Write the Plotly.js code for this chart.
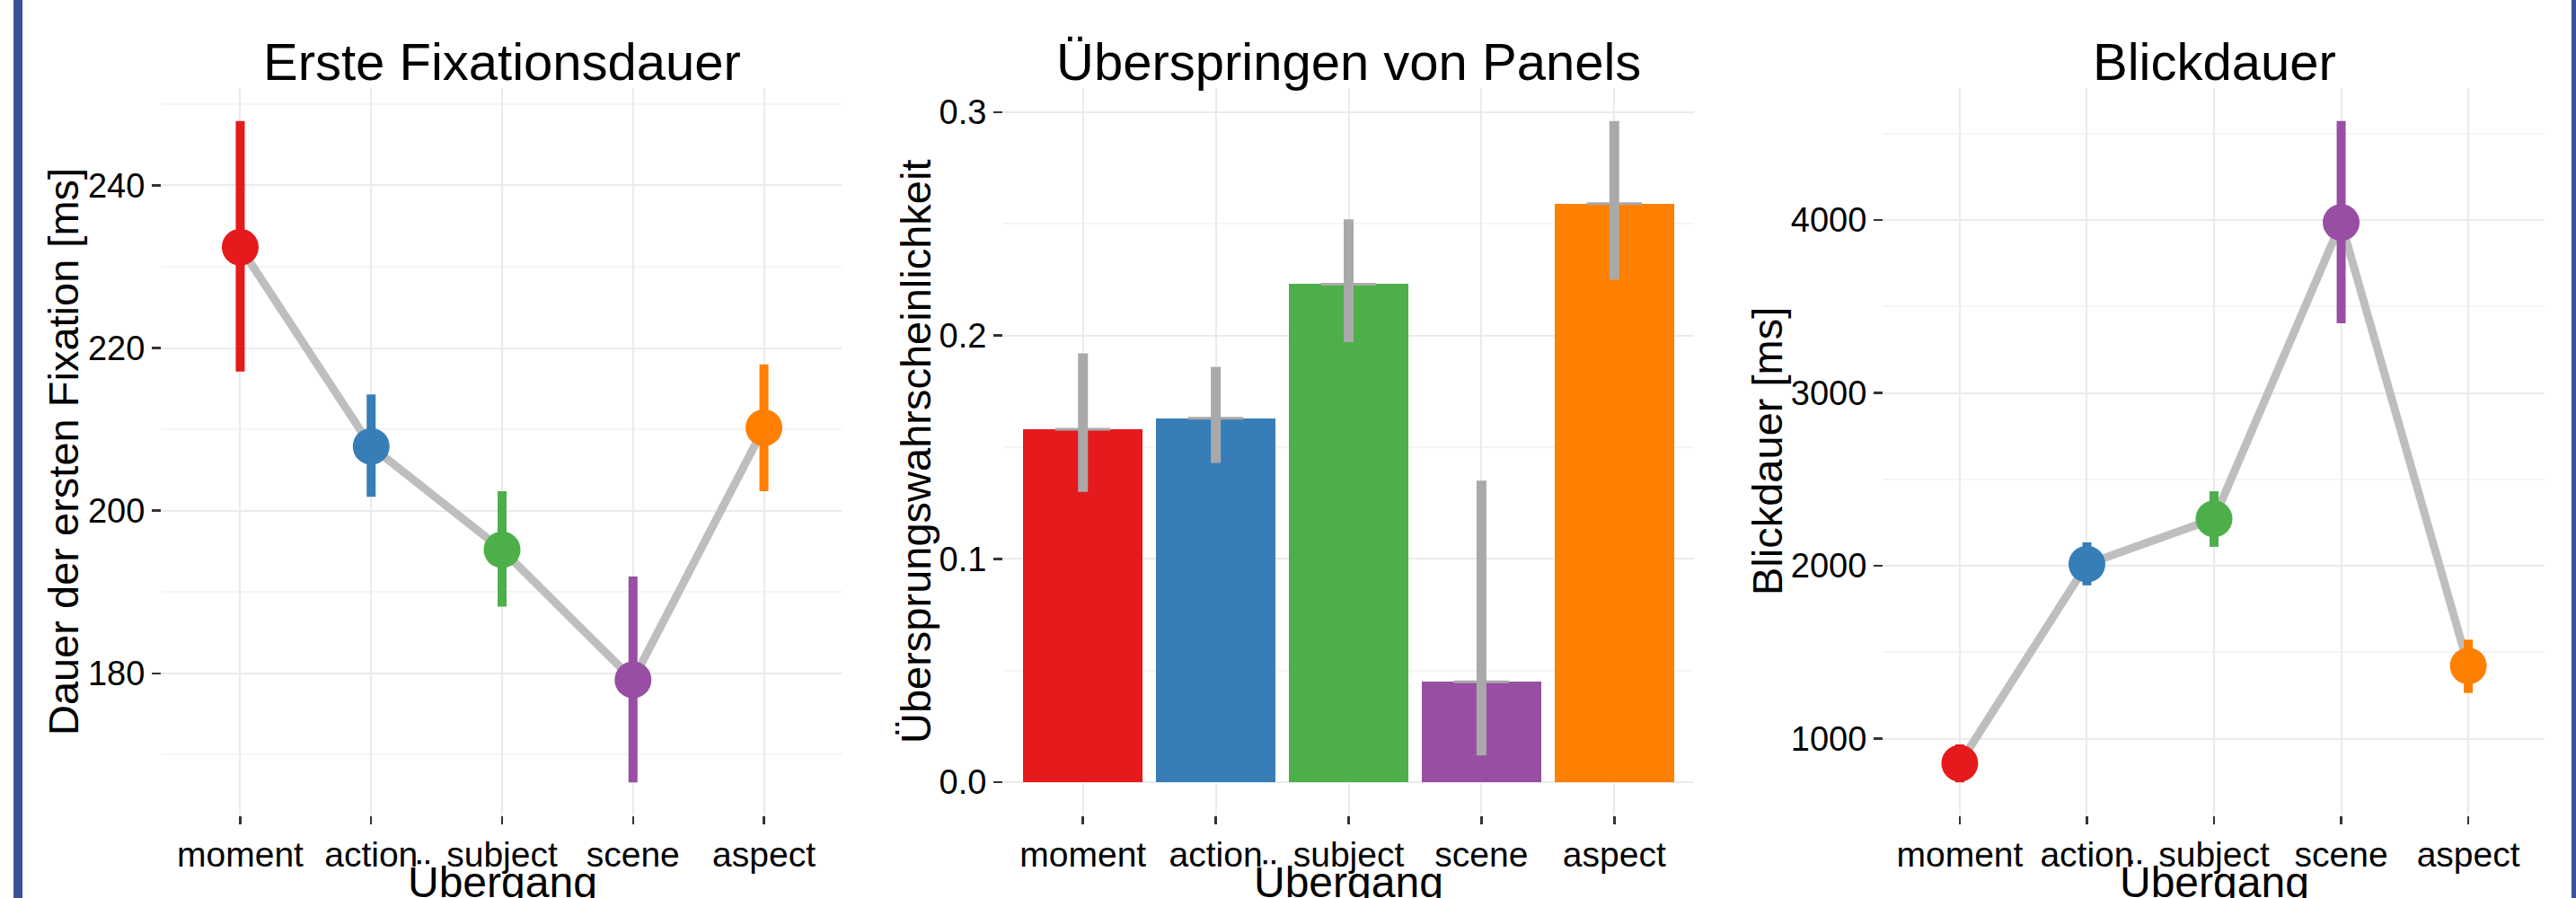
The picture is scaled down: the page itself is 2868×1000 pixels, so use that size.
<!DOCTYPE html>
<html>
<head>
<meta charset="utf-8">
<script src="https://cdn.plot.ly/plotly-3.0.1.min.js"></script>
<style>
  html, body { margin: 0; padding: 0; background: #ffffff; }
  #chart { width: 2868px; height: 1000px; }
</style>
</head>
<body>
<div id="chart"></div>
<script>
// ---------- data ----------
const categories = ['moment', 'action', 'subject', 'scene', 'aspect'];
const colors = ['#E41A1C', '#377EB8', '#4DAF4A', '#984EA3', '#FF7F00'];

// Panel 1: Erste Fixationsdauer [ms]
const fixMean = [232.4, 207.9, 195.2, 179.2, 210.2];
const fixLow  = [217.1, 201.7, 188.2, 166.6, 202.4];
const fixHigh = [247.9, 214.3, 202.4, 191.9, 218.0];

// Panel 2: Überspringen von Panels (probability)
const skipMean = [0.158, 0.163, 0.223, 0.045, 0.259];
const skipLow  = [0.130, 0.143, 0.197, 0.012, 0.225];
const skipHigh = [0.192, 0.186, 0.252, 0.135, 0.296];

// Panel 3: Blickdauer [ms]
const gazeMean = [858, 2010, 2272, 3986, 1421];
const gazeLow  = [748, 1887, 2110, 3402, 1265];
const gazeHigh = [967, 2136, 2431, 4572, 1573];

const panelTitles = ['Erste Fixationsdauer', 'Überspringen von Panels', 'Blickdauer'];
const yTitles = ['Dauer der ersten Fixation [ms]', 'Übersprungswahrscheinlichkeit', 'Blickdauer [ms]'];
const xTitle = 'Übergang';

// ---------- helpers ----------
const W = 2868, H = 1000;
const FONT = 'Liberation Sans, Arial, Helvetica, sans-serif';
const LINE_GRAY = '#BEBEBE';
const ERR_GRAY = '#A9A9A9';

function expandRange(lows, highs, includeZero) {
  let lo = Math.min(...lows), hi = Math.max(...highs);
  if (includeZero) lo = Math.min(lo, 0);
  const pad = (hi - lo) * 0.05;
  return [lo - pad, hi + pad];
}

function pointTraces(mean, low, high, xa, ya) {
  const traces = [{
    type: 'scatter', mode: 'lines', x: categories, y: mean,
    xaxis: xa, yaxis: ya, hoverinfo: 'skip', showlegend: false,
    line: { color: LINE_GRAY, width: 9 }
  }];
  categories.forEach((c, i) => {
    traces.push({
      type: 'scatter', mode: 'markers', x: [c], y: [mean[i]],
      xaxis: xa, yaxis: ya, showlegend: false,
      marker: { size: 41, color: colors[i] },
      error_y: {
        type: 'data', symmetric: false,
        array: [high[i] - mean[i]], arrayminus: [mean[i] - low[i]],
        color: colors[i], thickness: 10, width: 0
      }
    });
  });
  return traces;
}

const traces = [];
traces.push(...pointTraces(fixMean, fixLow, fixHigh, 'x', 'y'));
traces.push({
  type: 'bar', x: categories, y: skipMean, xaxis: 'x2', yaxis: 'y2',
  width: 0.9, showlegend: false,
  marker: { color: colors, line: { width: 0 } }
});
traces.push({
  type: 'scatter', mode: 'markers', x: categories, y: skipMean,
  xaxis: 'x2', yaxis: 'y2', showlegend: false,
  marker: { symbol: 'line-ew', size: 44, color: ERR_GRAY, line: { color: ERR_GRAY, width: 3 } },
  error_y: {
    type: 'data', symmetric: false,
    array: skipHigh.map((h, i) => h - skipMean[i]),
    arrayminus: skipMean.map((m, i) => m - skipLow[i]),
    color: ERR_GRAY, thickness: 11, width: 0
  }
});
traces.push(...pointTraces(gazeMean, gazeLow, gazeHigh, 'x3', 'y3'));

// ---------- axes ----------
const yDomain = [1 - 908 / H, 1 - 98 / H];
const xDomains = [[180 / W, 938 / W], [1117 / W, 1886 / W], [2097 / W, 2833 / W]];

function xAxis(i) {
  return {
    domain: xDomains[i], type: 'category', range: [-0.6, 4.6],
    anchor: i === 0 ? 'y' : 'y' + (i + 1),
    showgrid: true, gridcolor: '#EBEBEB', gridwidth: 2,
    zeroline: false, showline: false,
    ticks: 'outside', ticklen: 9, tickwidth: 2.5, tickcolor: '#333333',
    tickfont: { family: FONT, size: 39, color: '#000000' },
    fixedrange: true
  };
}
function yAxis(i, range, tick0, dtick, fmt) {
  return {
    domain: yDomain, range: range,
    anchor: i === 0 ? 'x' : 'x' + (i + 1),
    tickmode: 'linear', tick0: tick0, dtick: dtick, tickformat: fmt,
    showgrid: true, gridcolor: '#EBEBEB', gridwidth: 2,
    minor: { dtick: dtick / 2, showgrid: true, gridcolor: '#F5F5F5', gridwidth: 2, ticks: '' },
    zeroline: false, showline: false,
    ticks: 'outside', ticklen: 10, tickwidth: 2.5, tickcolor: '#333333',
    tickfont: { family: FONT, size: 38, color: '#000000' },
    fixedrange: true
  };
}

const plotCenters = xDomains.map(d => (d[0] + d[1]) / 2);
const yTitleX = [70 / W, 1019 / W, 1967 / W];

const annotations = [];
panelTitles.forEach((t, i) => {
  annotations.push({
    text: t, xref: 'paper', yref: 'paper', x: plotCenters[i], y: 1 - 69 / H,
    xanchor: 'center', yanchor: 'middle', showarrow: false,
    font: { family: FONT, size: 58, color: '#000000' }
  });
  annotations.push({
    text: yTitles[i], xref: 'paper', yref: 'paper', x: yTitleX[i], y: (yDomain[0] + yDomain[1]) / 2,
    xanchor: 'center', yanchor: 'middle', textangle: -90, showarrow: false,
    font: { family: FONT, size: 47, color: '#000000' }
  });
  annotations.push({
    text: xTitle, xref: 'paper', yref: 'paper', x: plotCenters[i], y: 1 - 982 / H,
    xanchor: 'center', yanchor: 'middle', showarrow: false,
    font: { family: FONT, size: 48, color: '#000000' }
  });
});

const layout = {
  width: W, height: H, autosize: false,
  margin: { l: 0, r: 0, t: 0, b: 0, pad: 0 },
  paper_bgcolor: '#FFFFFF', plot_bgcolor: '#FFFFFF',
  showlegend: false, bargap: 0,
  font: { family: FONT, color: '#000000' },
  xaxis: xAxis(0), xaxis2: xAxis(1), xaxis3: xAxis(2),
  yaxis: yAxis(0, expandRange(fixLow, fixHigh, false), 180, 20, ''),
  yaxis2: yAxis(1, expandRange(skipLow, skipHigh, true), 0, 0.1, '.1f'),
  yaxis3: yAxis(2, expandRange(gazeLow, gazeHigh, false), 1000, 1000, 'd'),
  annotations: annotations,
  shapes: [
    { type: 'rect', xref: 'paper', yref: 'paper', x0: 15 / W, x1: 25 / W, y0: 0, y1: 1,
      fillcolor: '#3A5298', line: { width: 0 }, layer: 'above' },
    { type: 'rect', xref: 'paper', yref: 'paper', x0: 2863 / W, x1: 1.01, y0: 0, y1: 1,
      fillcolor: '#3A5298', line: { width: 0 }, layer: 'above' }
  ]
};

Plotly.newPlot('chart', traces, layout, { displayModeBar: false, staticPlot: true });
</script>
</body>
</html>
